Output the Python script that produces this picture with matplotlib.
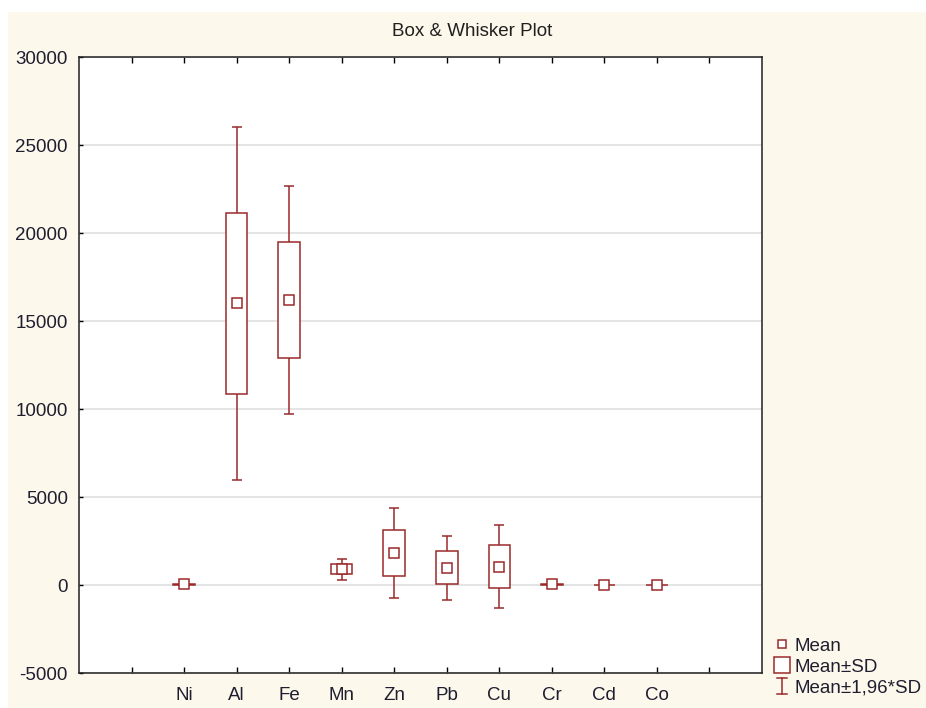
import numpy as np
import matplotlib.pyplot as plt
from matplotlib.lines import Line2D
from matplotlib.legend_handler import HandlerBase
from matplotlib.patches import Rectangle

plt.rcParams['font.family'] = ['Liberation Sans', 'DejaVu Sans']
plt.rcParams['axes.unicode_minus'] = False

# element concentrations: mean and standard deviation
elements = ["Ni", "Al", "Fe", "Mn", "Zn", "Pb", "Cu", "Cr", "Cd", "Co"]
means = [40, 16000, 16180, 900, 1830, 970, 1050, 40, 5, 10]
sds = [30, 5120, 3310, 300, 1300, 940, 1195, 25, 3, 5]

red = "#9b2a2c"
cream = "#fdf8ec"
txt = "#1e1e30"

x = np.arange(2, 2 + len(elements))
means = np.array(means, dtype=float)
sds = np.array(sds, dtype=float)

fig = plt.figure(figsize=(9.26, 7.08), dpi=100, facecolor="white")
fig.patches.append(Rectangle((8 / 926, 0), 1, 1 - 12 / 708, transform=fig.transFigure,
                             facecolor=cream, edgecolor="none", zorder=-10))
ax = fig.add_axes([79 / 926, 35 / 708, 683 / 926, 616 / 708])
ax.set_facecolor("white")

# whiskers: mean +/- 1.96*SD
ax.errorbar(x, means, yerr=1.96 * sds, fmt="none", ecolor=red, elinewidth=1.1,
            capsize=3.6, capthick=1.1, zorder=2)
# boxes: mean +/- SD
ax.bar(x, 2 * sds, bottom=means - sds, width=0.41, facecolor="white",
       edgecolor=red, linewidth=1.1, zorder=3)
# mean markers
ax.plot(x, means, linestyle="none", marker="s", markersize=6.5,
        markerfacecolor="white", markeredgecolor=red, markeredgewidth=1.1, zorder=4)

ax.set_xlim(0, 13)
ax.set_ylim(-5000, 30000)
ax.set_yticks(np.arange(-5000, 30001, 5000))
ax.set_xticks(np.arange(1, 13))
ax.set_xticklabels([""] + elements + [""])
ax.grid(axis="y", color="#dcdcdc", linewidth=1.1, zorder=0)
ax.set_axisbelow(True)

for s in ax.spines.values():
    s.set_linewidth(1.1)
    s.set_color("#202020")
ax.tick_params(axis="x", direction="in", length=4, width=1, top=True, bottom=True,
               labelsize=13.5, labelcolor=txt, pad=10)
ax.tick_params(axis="y", direction="in", length=3, width=1, labelsize=13.5,
               labelcolor=txt, pad=8)

fig.text(0.51, 1 - 32 / 708, "Box & Whisker Plot", ha="center", va="center",
         fontsize=13.5, color="#202020")


class IBeamHandler(HandlerBase):
    # vertical bar with caps, like the whiskers
    def create_artists(self, legend, orig_handle, xdescent, ydescent, width, height,
                       fontsize, trans):
        cx = width / 2 - xdescent
        h = height * 1.25
        y0 = height / 2 - ydescent - h / 2
        c = 3.5
        kw = dict(color=red, linewidth=1.1, transform=trans)
        return [Line2D([cx, cx], [y0, y0 + h], **kw),
                Line2D([cx - c, cx + c], [y0, y0], **kw),
                Line2D([cx - c, cx + c], [y0 + h, y0 + h], **kw)]


ibeam = Line2D([], [])
handles = [
    Line2D([], [], linestyle="none", marker="s", markersize=5.5,
           markerfacecolor="white", markeredgecolor=red, markeredgewidth=1.1),
    Line2D([], [], linestyle="none", marker="s", markersize=12,
           markerfacecolor="white", markeredgecolor=red, markeredgewidth=1.1),
    ibeam,
]
labels = ["Mean", "Mean±SD", "Mean±1,96*SD"]
leg = fig.legend(handles, labels, loc="lower left", bbox_to_anchor=(762 / 926, 0.0),
                 frameon=False, fontsize=13.5, handlelength=0.9, handletextpad=0.25,
                 labelspacing=0.2, borderaxespad=0.2,
                 handler_map={ibeam: IBeamHandler()})
for t in leg.get_texts():
    t.set_color(txt)

fig.savefig("out.png", dpi=100, facecolor=fig.get_facecolor())
